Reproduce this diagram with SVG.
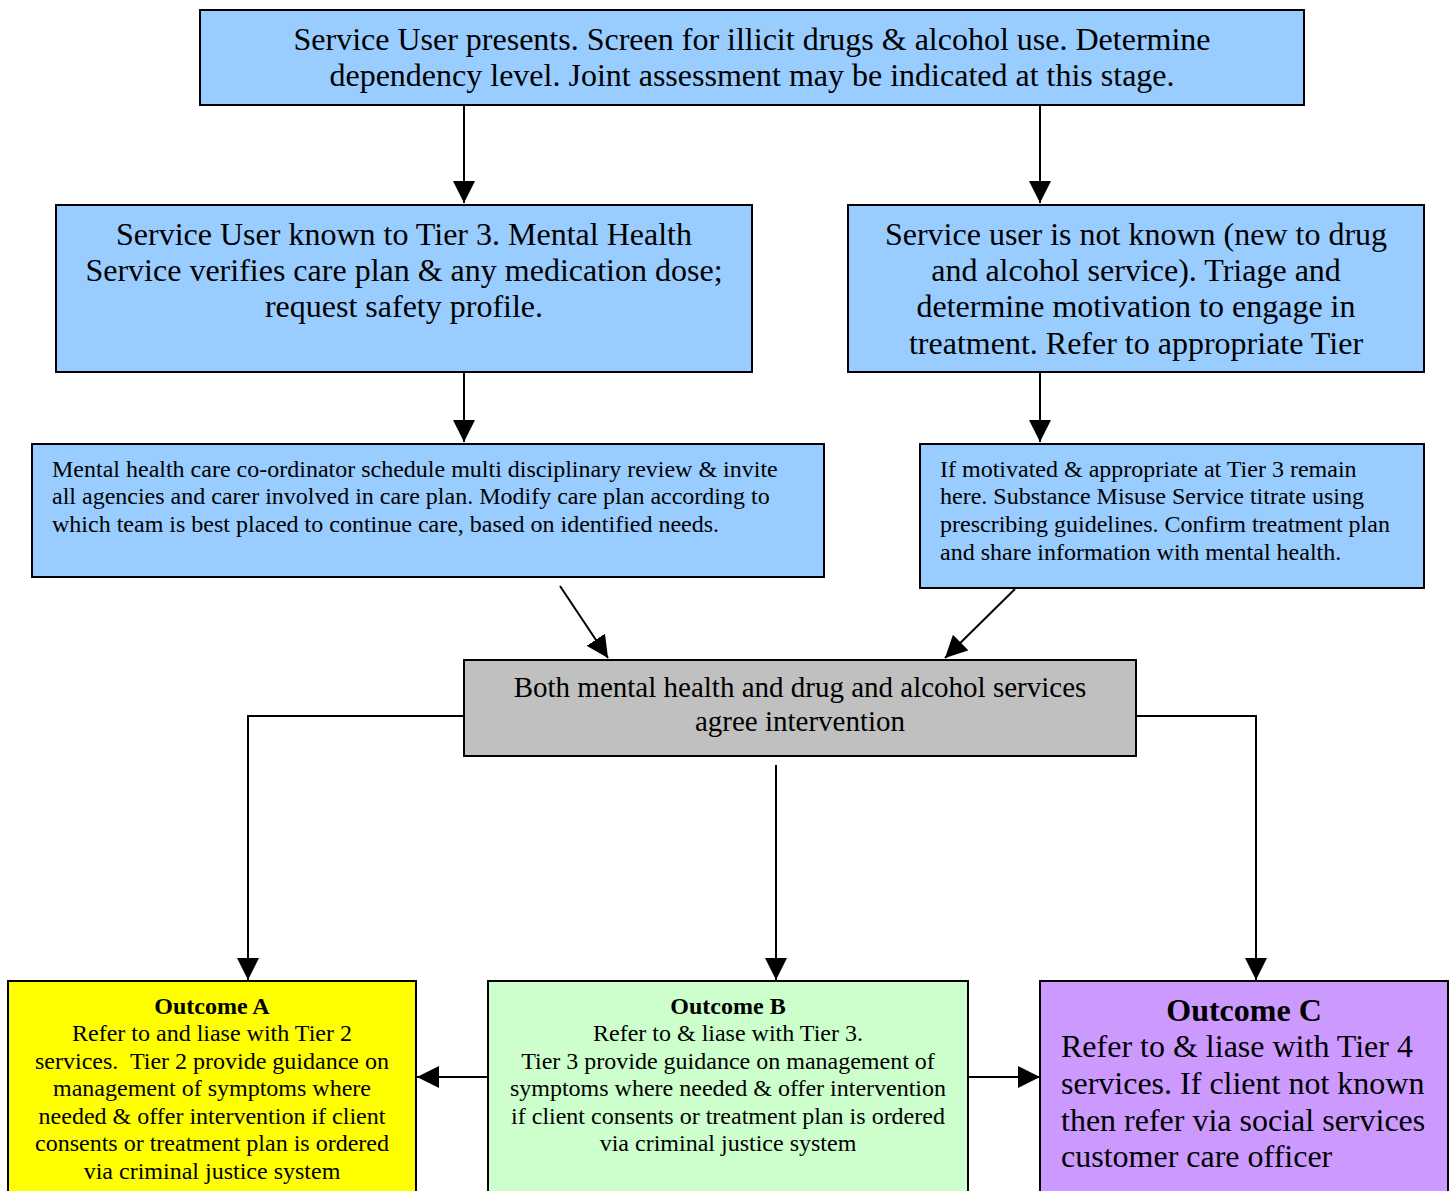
<svg xmlns="http://www.w3.org/2000/svg" width="1456" height="1191" viewBox="0 0 1456 1191">
<style>
.box{stroke:#000;stroke-width:2}
.blue{fill:#99ccff}
.t{font-family:"Liberation Serif","Times New Roman",serif;fill:#000}
.c{text-anchor:middle}
.f32{font-size:32px}
.f24{font-size:24px}
.f29{font-size:29px}
.b{font-weight:bold}
.ln{stroke:#000;stroke-width:2;fill:none}
</style>
<defs>
<marker id="ahb" viewBox="0 0 10 10" refX="10" refY="5" markerWidth="22" markerHeight="22" markerUnits="userSpaceOnUse" orient="auto">
<path d="M0,0 L10,5 L0,10 z" fill="#000"/>
</marker>
</defs>

<g id="connectors">
<line class="ln" x1="464" y1="106" x2="464" y2="203" marker-end="url(#ahb)"/>
<line class="ln" x1="1040" y1="106" x2="1040" y2="203" marker-end="url(#ahb)"/>
<line class="ln" x1="464" y1="370" x2="464" y2="442" marker-end="url(#ahb)"/>
<line class="ln" x1="1040" y1="373" x2="1040" y2="442" marker-end="url(#ahb)"/>
<line class="ln" x1="560" y1="586" x2="608" y2="658" marker-end="url(#ahb)"/>
<line class="ln" x1="1015" y1="589" x2="945" y2="658" marker-end="url(#ahb)"/>
<polyline class="ln" points="464,716 248,716 248,980" marker-end="url(#ahb)"/>
<polyline class="ln" points="1136,716 1256,716 1256,980" marker-end="url(#ahb)"/>
<line class="ln" x1="776" y1="765" x2="776" y2="980" marker-end="url(#ahb)"/>
<line class="ln" x1="488" y1="1077" x2="417" y2="1077" marker-end="url(#ahb)"/>
<line class="ln" x1="968" y1="1077" x2="1040" y2="1077" marker-end="url(#ahb)"/>
</g>

<g id="start">
<rect class="box blue" x="200" y="10" width="1104" height="95"/>
<text class="t c f32" x="752" y="50">Service User presents. Screen for illicit drugs &amp; alcohol use. Determine</text>
<text class="t c f32" x="752" y="86">dependency level. Joint assessment may be indicated at this stage.</text>
</g>

<g id="known">
<rect class="box blue" x="56" y="205" width="696" height="167"/>
<text class="t c f32" x="404" y="245">Service User known to Tier 3. Mental Health</text>
<text class="t c f32" x="404" y="281">Service verifies care plan &amp; any medication dose;</text>
<text class="t c f32" x="404" y="317">request safety profile.</text>
</g>

<g id="notknown">
<rect class="box blue" x="848" y="205" width="576" height="167"/>
<text class="t c f32" x="1136" y="245">Service user is not known (new to drug</text>
<text class="t c f32" x="1136" y="281">and alcohol service). Triage and</text>
<text class="t c f32" x="1136" y="317">determine motivation to engage in</text>
<text class="t c f32" x="1136" y="354">treatment. Refer to appropriate Tier</text>
</g>

<g id="review">
<rect class="box blue" x="32" y="444" width="792" height="133"/>
<text class="t f24" x="52" y="477">Mental health care co-ordinator schedule multi disciplinary review &amp; invite</text>
<text class="t f24" x="52" y="504">all agencies and carer involved in care plan. Modify care plan according to</text>
<text class="t f24" x="52" y="532">which team is best placed to continue care, based on identified needs.</text>
</g>

<g id="motivated">
<rect class="box blue" x="920" y="444" width="504" height="144"/>
<text class="t f24" x="940" y="477">If motivated &amp; appropriate at Tier 3 remain</text>
<text class="t f24" x="940" y="504">here. Substance Misuse Service titrate using</text>
<text class="t f24" x="940" y="532">prescribing guidelines. Confirm treatment plan</text>
<text class="t f24" x="940" y="560">and share information with mental health.</text>
</g>

<g id="agree">
<rect class="box" fill="#c0c0c0" x="464" y="660" width="672" height="96"/>
<text class="t c f29" x="800" y="697">Both mental health and drug and alcohol services</text>
<text class="t c f29" x="800" y="731">agree intervention</text>
</g>

<g id="outcomeA">
<rect class="box" fill="#ffff00" x="8" y="981" width="408" height="220"/>
<text class="t c f24 b" x="212" y="1014">Outcome A</text>
<text class="t c f24" x="212" y="1041">Refer to and liase with Tier 2</text>
<text class="t c f24" x="212" y="1069" xml:space="preserve">services.  Tier 2 provide guidance on</text>
<text class="t c f24" x="212" y="1096">management of symptoms where</text>
<text class="t c f24" x="212" y="1124">needed &amp; offer intervention if client</text>
<text class="t c f24" x="212" y="1151">consents or treatment plan is ordered</text>
<text class="t c f24" x="212" y="1179">via criminal justice system</text>
</g>

<g id="outcomeB">
<rect class="box" fill="#ccffcc" x="488" y="981" width="480" height="220"/>
<text class="t c f24 b" x="728" y="1014">Outcome B</text>
<text class="t c f24" x="728" y="1041">Refer to &amp; liase with Tier 3.</text>
<text class="t c f24" x="728" y="1069">Tier 3 provide guidance on management of</text>
<text class="t c f24" x="728" y="1096">symptoms where needed &amp; offer intervention</text>
<text class="t c f24" x="728" y="1124">if client consents or treatment plan is ordered</text>
<text class="t c f24" x="728" y="1151">via criminal justice system</text>
</g>

<g id="outcomeC">
<rect class="box" fill="#cc99ff" x="1040" y="981" width="408" height="220"/>
<text class="t c b f32" x="1244" y="1021">Outcome C</text>
<text class="t f32" x="1061" y="1057">Refer to &amp; liase with Tier 4</text>
<text class="t f32" x="1061" y="1094">services. If client not known</text>
<text class="t f32" x="1061" y="1131">then refer via social services</text>
<text class="t f32" x="1061" y="1167">customer care officer</text>
</g>
</svg>
